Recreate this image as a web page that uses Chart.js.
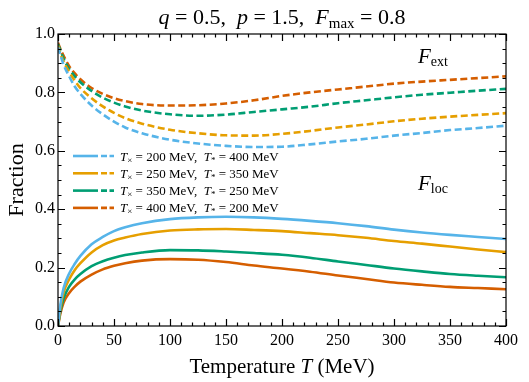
<!DOCTYPE html>
<html>
<head>
<meta charset="utf-8">
<script src="https://cdn.jsdelivr.net/npm/chart.js@4.4.1/dist/chart.umd.min.js"></script>
<style>
  html, body { margin: 0; padding: 0; background: #fff; }
  #wrap { width: 529px; height: 382px; }
</style>
</head>
<body>
<div id="wrap"><canvas id="fractions" width="529" height="382"></canvas></div>
<script>
'use strict';

// temperature grid (MeV) the values were read at
const temperatures = [0, 2, 5, 10, 15, 20, 30, 40, 50, 60, 75, 100, 125, 150, 175, 200, 225, 250, 275, 300, 325, 350, 375, 400];

// F_ext (dashed)
const extA = [0.955, 0.93, 0.895, 0.855, 0.82, 0.795, 0.755, 0.725, 0.70, 0.68, 0.66, 0.638, 0.625, 0.617, 0.613, 0.614, 0.622, 0.632, 0.641, 0.652, 0.661, 0.671, 0.678, 0.686];
const extB = [0.96, 0.935, 0.905, 0.87, 0.84, 0.815, 0.78, 0.752, 0.73, 0.712, 0.693, 0.672, 0.66, 0.653, 0.652, 0.658, 0.668, 0.68, 0.69, 0.701, 0.71, 0.717, 0.723, 0.729];
const extC = [0.965, 0.945, 0.915, 0.88, 0.855, 0.835, 0.805, 0.782, 0.765, 0.752, 0.738, 0.725, 0.72, 0.724, 0.733, 0.742, 0.751, 0.763, 0.773, 0.783, 0.792, 0.799, 0.806, 0.812];
const extD = [0.97, 0.95, 0.925, 0.89, 0.865, 0.845, 0.815, 0.795, 0.78, 0.77, 0.76, 0.755, 0.756, 0.762, 0.773, 0.788, 0.80, 0.81, 0.82, 0.83, 0.837, 0.843, 0.849, 0.855];

// F_loc (solid)
const locA = [0, 0.07, 0.13, 0.18, 0.213, 0.24, 0.28, 0.305, 0.325, 0.338, 0.352, 0.366, 0.372, 0.374, 0.372, 0.367, 0.36, 0.352, 0.342, 0.33, 0.32, 0.312, 0.305, 0.298];
const locB = [0, 0.06, 0.115, 0.16, 0.192, 0.215, 0.252, 0.277, 0.293, 0.303, 0.315, 0.327, 0.331, 0.332, 0.329, 0.325, 0.318, 0.311, 0.302, 0.291, 0.282, 0.272, 0.262, 0.253];
const locC = [0, 0.05, 0.095, 0.135, 0.16, 0.178, 0.205, 0.222, 0.234, 0.243, 0.252, 0.26, 0.259, 0.255, 0.25, 0.244, 0.234, 0.221, 0.209, 0.197, 0.187, 0.178, 0.172, 0.167];
const locD = [0, 0.04, 0.08, 0.113, 0.135, 0.152, 0.176, 0.194, 0.206, 0.215, 0.224, 0.229, 0.227, 0.219, 0.207, 0.197, 0.186, 0.173, 0.161, 0.149, 0.141, 0.134, 0.13, 0.126];

const crossTemps = [200, 250, 350, 400];
const starTemps = [400, 350, 250, 200];
const xTicks = [0, 50, 100, 150, 200, 250, 300, 350, 400];
const yTicks = [0.0, 0.2, 0.4, 0.6, 0.8, 1.0];

const colors = ['#56B4E9', '#E69F00', '#009E73', '#D55E00'];
const extSeries = [extA, extB, extC, extD];
const locSeries = [locA, locB, locC, locD];

const SERIF = '"Liberation Serif", "DejaVu Serif", serif';

function points(values) {
  return temperatures.map((t, i) => ({ x: t, y: values[i] }));
}

const datasets = [];
extSeries.forEach((vals, i) => {
  datasets.push({
    data: points(vals),
    borderColor: colors[i],
    borderWidth: 2.6,
    borderDash: [7, 3.5],
    pointRadius: 0,
    cubicInterpolationMode: 'monotone',
    fill: false,
  });
});
locSeries.forEach((vals, i) => {
  datasets.push({
    data: points(vals),
    borderColor: colors[i],
    borderWidth: 2.6,
    pointRadius: 0,
    cubicInterpolationMode: 'monotone',
    fill: false,
  });
});

// draws a list of [text, font, dy] pieces one after another
function drawRuns(ctx, runs, x, y, align) {
  let total = 0;
  runs.forEach((r) => {
    ctx.font = r[1];
    total += ctx.measureText(r[0]).width;
  });
  let cx = align === 'center' ? x - total / 2 : x;
  runs.forEach((r) => {
    ctx.font = r[1];
    ctx.fillText(r[0], cx, y + (r[2] || 0));
    cx += ctx.measureText(r[0]).width;
  });
}

const decorations = {
  id: 'decorations',
  afterDatasetsDraw(chart) {
    const { ctx, chartArea: a, scales } = chart;
    const x = scales.x;
    const y = scales.y;
    ctx.save();
    ctx.strokeStyle = '#000';
    ctx.fillStyle = '#000';
    ctx.lineWidth = 1.2;
    ctx.setLineDash([]);
    ctx.strokeRect(a.left, a.top, a.right - a.left, a.bottom - a.top);

    // inward ticks on all four sides
    ctx.beginPath();
    for (let v = 0; v <= 400; v += 10) {
      const px = Math.round(x.getPixelForValue(v)) + 0.5;
      const len = v % 50 === 0 ? 7 : 3.5;
      ctx.moveTo(px, a.bottom);
      ctx.lineTo(px, a.bottom - len);
      ctx.moveTo(px, a.top);
      ctx.lineTo(px, a.top + len);
    }
    for (let k = 0; k <= 20; k++) {
      const py = Math.round(y.getPixelForValue(k * 0.05)) + 0.5;
      const len = k % 4 === 0 ? 7 : 3.5;
      ctx.moveTo(a.left, py);
      ctx.lineTo(a.left + len, py);
      ctx.moveTo(a.right, py);
      ctx.lineTo(a.right - len, py);
    }
    ctx.stroke();

    ctx.textBaseline = 'alphabetic';
    ctx.textAlign = 'left';

    // title
    const it = 'italic 22px ' + SERIF;
    const rm = '22px ' + SERIF;
    const sm = '15px ' + SERIF;
    const mid = (a.left + a.right) / 2;
    drawRuns(ctx, [['q', it], [' = 0.5,  ', rm], ['p', it], [' = 1.5,  ', rm], ['F', it], ['max', sm, 4], [' = 0.8', rm]], mid, 24, 'center');

    // axis titles
    const rt = '21px ' + SERIF;
    const itT = 'italic 21px ' + SERIF;
    drawRuns(ctx, [['Temperature ', rt], ['T', itT], [' (MeV)', rt]], mid, 373, 'center');
    ctx.save();
    ctx.translate(23, (a.top + a.bottom) / 2);
    ctx.rotate(-Math.PI / 2);
    drawRuns(ctx, [['Fraction', '22px ' + SERIF]], 0, 0, 'center');
    ctx.restore();

    // curve family labels
    const itF = 'italic 21px ' + SERIF;
    const subF = '14px ' + SERIF;
    drawRuns(ctx, [['F', itF], ['ext', subF, 3]], 418, 63, 'left');
    drawRuns(ctx, [['F', itF], ['loc', subF, 3]], 418, 190, 'left');

    // legend: solid + dashed sample, then label
    const itL = 'italic 13px ' + SERIF;
    const rmL = '13px ' + SERIF;
    const subL = '9px ' + SERIF;
    const rowY = [156, 173.3, 190.6, 207.9];
    colors.forEach((c, i) => {
      const ry = rowY[i];
      ctx.strokeStyle = c;
      ctx.lineWidth = 2.6;
      ctx.setLineDash([]);
      ctx.beginPath();
      ctx.moveTo(73, ry);
      ctx.lineTo(98, ry);
      ctx.stroke();
      ctx.setLineDash([6, 2.5]);
      ctx.beginPath();
      ctx.moveTo(101, ry);
      ctx.lineTo(114, ry);
      ctx.stroke();
      ctx.setLineDash([]);
      ctx.fillStyle = '#000';
      drawRuns(ctx, [
        ['T', itL], ['\u00d7', subL, 2], [' = ' + crossTemps[i] + ' MeV,  ', rmL],
        ['T', itL], ['*', subL, 2], [' = ' + starTemps[i] + ' MeV', rmL],
      ], 120, ry + 4.5, 'left');
    });
    ctx.restore();
  },
};

new Chart(document.getElementById('fractions'), {
  type: 'line',
  data: { datasets: datasets },
  options: {
    responsive: false,
    devicePixelRatio: 1,
    animation: false,
    layout: { padding: { top: 34, right: 23, left: 0, bottom: 0 } },
    plugins: {
      legend: { display: false },
      tooltip: { enabled: false },
      title: { display: false },
    },
    scales: {
      x: {
        type: 'linear',
        min: 0,
        max: 400,
        grid: { display: false },
        border: { display: false },
        afterBuildTicks: (scale) => {
          scale.ticks = xTicks.map((v) => ({ value: v }));
        },
        afterFit: (scale) => {
          scale.height = 56;
        },
        ticks: {
          autoSkip: false,
          maxRotation: 0,
          padding: -3,
          color: '#000',
          font: { family: SERIF, size: 16 },
        },
      },
      y: {
        type: 'linear',
        min: 0,
        max: 1,
        grid: { display: false },
        border: { display: false },
        afterBuildTicks: (scale) => {
          scale.ticks = yTicks.map((v) => ({ value: v }));
        },
        afterFit: (scale) => {
          scale.width = 58;
        },
        ticks: {
          padding: -5,
          color: '#000',
          font: { family: SERIF, size: 16 },
          callback: (v) => Number(v).toFixed(1),
        },
      },
    },
  },
  plugins: [decorations],
});
</script>
</body>
</html>
